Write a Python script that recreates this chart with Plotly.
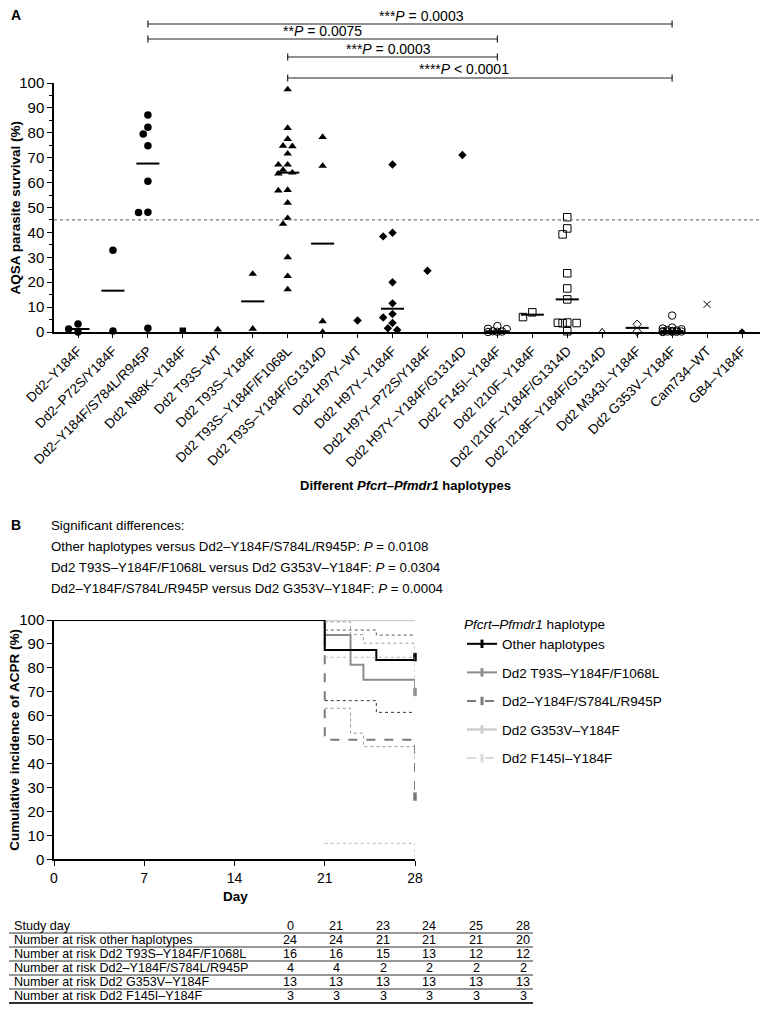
import math
import numpy as np
import plotly.graph_objects as go

# page is 768x1013; the browser body keeps an 8 px margin, so the figure itself is 752x997
OFF = 8
FW, FH = 752, 997

# ---------------- Panel A data ----------------
categories = [
    "Dd2–Y184F", "Dd2–P72S/Y184F", "Dd2–Y184F/S784L/R945P", "Dd2 N88K–Y184F",
    "Dd2 T93S–WT", "Dd2 T93S–Y184F", "Dd2 T93S–Y184F/F1068L", "Dd2 T93S–Y184F/G1314D",
    "Dd2 H97Y–WT", "Dd2 H97Y–Y184F", "Dd2 H97Y–P72S/Y184F", "Dd2 H97Y–Y184F/G1314D",
    "Dd2 F145I–Y184F", "Dd2 I210F–Y184F", "Dd2 I210F–Y184F/G1314D", "Dd2 I218F–Y184F/G1314D",
    "Dd2 M343I–Y184F", "Dd2 G353V–Y184F", "Cam734–WT", "GB4–Y184F",
]

survival_dd2_y184f = [0.0, 3.2, 1.2]
survival_dd2_p72s = [32.8, 0.4]
survival_dd2_s784l_r945p = [87.1, 82.2, 79.5, 74.8, 60.5, 48.1, 48.0, 1.5]
survival_n88k = [0.5]
survival_t93s_wt = [1.0]
survival_t93s_y184f = [23.3, 1.3]
survival_t93s_f1068l = [97.4, 81.9, 77.5, 74.8, 74.6, 71.6, 67.2, 67.2, 65.1, 64.0,
                        63.6, 57.0, 56.8, 51.9, 45.7, 43.4, 30.0, 22.4, 17.1]
survival_t93s_g1314d = [78.3, 66.7, 4.3, 0.0]
survival_h97y_wt = [4.6]
survival_h97y_y184f = [67.3, 39.9, 38.4, 20.0, 11.5, 7.2, 5.8, 3.6, 1.5, 0.8]
survival_h97y_p72s = [24.6]
survival_h97y_g1314d = [71.1]
survival_f145i = [2.4, 1.3, 1.2, 0.3, 0.2, 0.1, 0.0]
survival_i210f = [7.9, 6.0]
survival_i210f_g1314d = [46.1, 41.6, 39.2, 23.6, 17.5, 13.1, 3.8, 3.6, 3.7, 3.5, 0.3]
survival_i218f = [0.2]
survival_m343i = [3.1, 0.2]
survival_g353v = [6.6, 1.8, 1.4, 1.1, 0.8, 0.6, 0.4, 0.3, 0.2, 0.2, 0.1, 0.1, 0.0]
survival_cam734 = [11.1]
survival_gb4 = [0.2]

survival_values = [
    survival_dd2_y184f, survival_dd2_p72s, survival_dd2_s784l_r945p, survival_n88k,
    survival_t93s_wt, survival_t93s_y184f, survival_t93s_f1068l, survival_t93s_g1314d,
    survival_h97y_wt, survival_h97y_y184f, survival_h97y_p72s, survival_h97y_g1314d,
    survival_f145i, survival_i210f, survival_i210f_g1314d, survival_i218f,
    survival_m343i, survival_g353v, survival_cam734, survival_gb4,
]

threshold = 45

comparisons = [
    ("Dd2–Y184F/S784L/R945P", "Dd2 G353V–Y184F", "***<i>P</i> = 0.0003"),
    ("Dd2–Y184F/S784L/R945P", "Dd2 F145I–Y184F", "**<i>P</i> = 0.0075"),
    ("Dd2 T93S–Y184F/F1068L", "Dd2 F145I–Y184F", "***<i>P</i> = 0.0003"),
    ("Dd2 T93S–Y184F/F1068L", "Dd2 G353V–Y184F", "****<i>P</i> < 0.0001"),
]

# ---------------- Panel B data ----------------
km_days = [0, 21, 23, 24, 25, 28]
km_other = [100, 87.5, 87.5, 87.5, 83.3, 83.3]
km_t93s = [100, 93.75, 81.25, 75.0, 75.0, 68.75]
km_s784l = [100, 50.0, 50.0, 50.0, 50.0, 25.0]
km_g353v = [100, 100, 100, 100, 100, 100]
km_f145i = [100, 100, 100, 100, 100, 100]

ci_days = [21, 23, 24, 25, 28]
ci_other_low = [66.3, 66.3, 66.3, 61.4, 61.4]
ci_other_high = [95.8, 95.8, 95.8, 93.7, 93.7]
ci_t93s_low = [63.1, 52.7, 47.1, 47.1, 40.5]
ci_t93s_high = [99.2, 93.9, 90.3, 90.3, 85.6]
ci_s784l_low = [6.7, 6.7, 6.7, 6.7, 0.9]
ci_s784l_high = [84.4, 84.4, 84.4, 84.4, 66.5]

km_names = ["Other haplotypes", "Dd2 T93S–Y184F/F1068L", "Dd2–Y184F/S784L/R945P",
            "Dd2 G353V–Y184F", "Dd2 F145I–Y184F"]

table_days = [0, 21, 23, 24, 25, 28]
table_rows = [
    "Number at risk other haplotypes",
    "Number at risk Dd2 T93S–Y184F/F1068L",
    "Number at risk Dd2–Y184F/S784L/R945P",
    "Number at risk Dd2 G353V–Y184F",
    "Number at risk Dd2 F145I–Y184F",
]
risk_other = [24, 24, 21, 21, 21, 20]
risk_t93s = [16, 16, 15, 13, 12, 12]
risk_s784l = [4, 4, 2, 2, 2, 2]
risk_g353v = [13, 13, 13, 13, 13, 13]
risk_f145i = [3, 3, 3, 3, 3, 3]
risk_values = [risk_other, risk_t93s, risk_s784l, risk_g353v, risk_f145i]

significance_lines = [
    "Significant differences:",
    "Other haplotypes versus Dd2–Y184F/S784L/R945P: <i>P</i> = 0.0108",
    "Dd2 T93S–Y184F/F1068L versus Dd2 G353V–Y184F: <i>P</i> = 0.0304",
    "Dd2–Y184F/S784L/R945P versus Dd2 G353V–Y184F: <i>P</i> = 0.0004",
]

# ---------------- styles ----------------
FONT = "Liberation Sans, Arial, sans-serif"
symbols = ["circle", "circle", "circle", "square",
           "triangle-up", "triangle-up", "triangle-up", "triangle-up",
           "diamond", "diamond", "diamond", "diamond",
           "circle-open", "square-open", "square-open", "triangle-up-open",
           "diamond-open", "circle-open", "x-thin-open", "diamond"]
sym_sizes = [7.5, 7.5, 7.5, 6.5, 7.5, 7.5, 7.5, 7.5, 6.5, 6.5, 6.5, 6.5,
             7.5, 7.5, 7.5, 6.5, 6.5, 7.5, 7, 5]


def pxx(x):
    """reference-page x pixel -> paper fraction"""
    return (x - OFF) / FW


def pxy(y):
    """reference-page y pixel -> paper fraction"""
    return 1 - (y - OFF) / FH


# Panel A geometry (reference pixels)
A_left, A_right = 54, 760
A_top, A_bottom = 83, 332
CAT0_PX, CAT19_PX = 78, 742
px_per_cat = (CAT19_PX - CAT0_PX) / 19.0
A_range = [-(CAT0_PX - A_left) / px_per_cat,
           -(CAT0_PX - A_left) / px_per_cat + (A_right - A_left) / px_per_cat]
px_per_unit = (A_bottom - A_top) / 100.0


def swarm(vals, step_px=4.67, min_d=7.0):
    order = sorted(range(len(vals)), key=lambda i: -vals[i])
    placed = []
    offs = [0.0] * len(vals)
    cands = [0, -1, 1, -2, 2]
    for i in order:
        y = vals[i] * px_per_unit
        chosen, best_c, best_d = None, 0, -1
        for c in cands:
            x = c * step_px
            d = min([math.hypot(x - a, y - b) for a, b in placed], default=1e9)
            if d >= min_d:
                chosen = c
                break
            if d > best_d:
                best_d, best_c = d, c
        if chosen is None:
            chosen = best_c
        placed.append((chosen * step_px, y))
        offs[i] = chosen * step_px / px_per_cat
    return offs


fig = go.Figure()

for i, (cat, vals) in enumerate(zip(categories, survival_values)):
    offs = swarm(vals)
    sym = symbols[i]
    is_open = sym.endswith("open")
    fig.add_trace(go.Scatter(
        x=[i + o for o in offs], y=vals, mode="markers",
        marker=dict(symbol=sym, size=sym_sizes[i], color="black",
                    line=dict(color="black", width=1 if is_open else 0)),
        cliponaxis=False, showlegend=False, xaxis="x", yaxis="y", name=cat,
        hovertemplate=cat + ": %{y}<extra></extra>",
    ))
    if len(vals) >= 2:
        med = float(np.median(vals))
        fig.add_trace(go.Scatter(
            x=[i - 0.33, i + 0.33], y=[med, med], mode="lines",
            line=dict(color="black", width=2), cliponaxis=False,
            showlegend=False, xaxis="x", yaxis="y", hoverinfo="skip",
        ))

# threshold line
fig.add_trace(go.Scatter(
    x=A_range, y=[threshold, threshold], mode="lines",
    line=dict(color="#777777", width=1.2, dash="dot"),
    showlegend=False, xaxis="x", yaxis="y", hoverinfo="skip",
))

shapes = []
annotations = []

# significance brackets (reference pixel rows; the top one is nudged below the page margin)
bracket_y = [24, 39, 57, 78]
label_px = [(422, 15.5), (322, 31), (388, 49), (464, 69)]
for (c1, c2, label), by, (lx, ly) in zip(comparisons, bracket_y, label_px):
    i1, i2 = categories.index(c1), categories.index(c2)
    for seg in [(i1, by, i2, by), (i1, by - 3.5, i1, by + 3.5), (i2, by - 3.5, i2, by + 3.5)]:
        shapes.append(dict(type="line", xref="x", yref="paper",
                           x0=seg[0], y0=pxy(seg[1]), x1=seg[2], y1=pxy(seg[3]),
                           line=dict(color="#222222", width=1.2)))
    annotations.append(dict(x=pxx(lx), y=pxy(ly), text=label, font=dict(size=14),
                            xanchor="center", yanchor="middle"))

# ---------------- Panel B ----------------
B_left, B_right = 54, 415
B_top, B_bottom = 620, 859.3

km_series = [km_other, km_t93s, km_s784l, km_g353v, km_f145i]
km_styles = [
    dict(color="black", width=2, dash="solid"),
    dict(color="#8c8c8c", width=2, dash="solid"),
    dict(color="#7a7a7a", width=2, dash="dash"),
    dict(color="#cfcfcf", width=2.5, dash="solid"),
    dict(color="#d9d9d9", width=2, dash="dash"),
]
draw_order = [4, 3, 2, 1, 0]
for k in draw_order:
    fig.add_trace(go.Scatter(
        x=km_days, y=km_series[k], mode="lines", line=dict(shape="hv", **km_styles[k]),
        showlegend=False, xaxis="x2", yaxis="y2", cliponaxis=False, name=km_names[k],
    ))
    fig.add_trace(go.Scatter(
        x=[km_days[-1]], y=[km_series[k][-1] + 1.2], mode="markers",
        marker=dict(symbol="line-ns", size=6, line=dict(color=km_styles[k]["color"], width=3.5)),
        showlegend=False, xaxis="x2", yaxis="y2", cliponaxis=False, hoverinfo="skip",
    ))

ci_sets = [
    (ci_other_low, "#333333"), (ci_other_high, "#555555"),
    (ci_t93s_low, "#9a9a9a"), (ci_t93s_high, "#9a9a9a"),
    (ci_s784l_low, "#b5b5b5"), (ci_s784l_high, "#b5b5b5"),
]
for vals, col in ci_sets:
    fig.add_trace(go.Scatter(
        x=ci_days, y=vals, mode="lines",
        line=dict(shape="hv", color=col, width=1, dash="dot"),
        showlegend=False, xaxis="x2", yaxis="y2", cliponaxis=False, hoverinfo="skip",
    ))

# legend entries
for k in range(5):
    fig.add_trace(go.Scatter(
        x=[None], y=[None], mode="lines+markers", name=km_names[k],
        line=km_styles[k],
        marker=dict(symbol="line-ns", size=6, line=dict(color=km_styles[k]["color"], width=3)),
        xaxis="x2", yaxis="y2", legendgroup=f"g{k}", showlegend=True,
    ))

# ---------------- text annotations ----------------
annotations += [
    dict(x=pxx(9), y=pxy(15), text="<b>A</b>", font=dict(size=14), xanchor="left", yanchor="middle"),
    dict(x=pxx(15), y=pxy((A_top + A_bottom) / 2), text="<b>AQSA parasite survival (%)</b>",
         textangle=-90, font=dict(size=13.5), xanchor="center", yanchor="middle"),
    dict(x=pxx(405), y=pxy(485), text="<b>Different <i>Pfcrt–Pfmdr1</i> haplotypes</b>",
         font=dict(size=13), xanchor="center", yanchor="middle"),
    dict(x=pxx(9), y=pxy(525), text="<b>B</b>", font=dict(size=14), xanchor="left", yanchor="middle"),
    dict(x=pxx(15), y=pxy((B_top + B_bottom) / 2), text="<b>Cumulative incidence of ACPR (%)</b>",
         textangle=-90, font=dict(size=13.5), xanchor="center", yanchor="middle"),
    dict(x=pxx(235), y=pxy(896), text="<b>Day</b>", font=dict(size=13.5),
         xanchor="center", yanchor="middle"),
]
for j, line in enumerate(significance_lines):
    annotations.append(dict(x=pxx(49), y=pxy(525 + 21 * j), text=line, font=dict(size=13.3),
                            xanchor="left", yanchor="middle"))

# table
col_x = [290, 336, 383, 429, 476, 523]
row_y0, row_step = 926, 14.0
tab_font = dict(size=12.6)
annotations.append(dict(x=pxx(12), y=pxy(row_y0), text="Study day", font=tab_font,
                        xanchor="left", yanchor="middle"))
for c, d in zip(col_x, table_days):
    annotations.append(dict(x=pxx(c), y=pxy(row_y0), text=str(d), font=tab_font,
                            xanchor="center", yanchor="middle"))
for r, (label, vals) in enumerate(zip(table_rows, risk_values)):
    yy = row_y0 + row_step * (r + 1)
    annotations.append(dict(x=pxx(12), y=pxy(yy), text=label, font=tab_font,
                            xanchor="left", yanchor="middle"))
    for c, v in zip(col_x, vals):
        annotations.append(dict(x=pxx(c), y=pxy(yy), text=str(v), font=tab_font,
                                xanchor="center", yanchor="middle"))
for r in range(6):
    ly = min(row_y0 + row_step * r + 7, 1003.5)
    shapes.append(dict(type="line", xref="paper", yref="paper", x0=pxx(9), x1=pxx(533),
                       y0=pxy(ly), y1=pxy(ly),
                       line=dict(color="#333333", width=2 if r == 5 else 1.2)))

for a in annotations:
    a.setdefault("showarrow", False)
    a.setdefault("xref", "paper")
    a.setdefault("yref", "paper")

axis_common = dict(showline=True, linecolor="black", linewidth=1.5, ticks="outside",
                   tickcolor="black", tickwidth=1.2, showgrid=False, zeroline=False,
                   automargin=False)

fig.update_layout(
    width=FW, height=FH, autosize=False,
    margin=dict(l=0, r=0, t=0, b=0, pad=0),
    paper_bgcolor="white", plot_bgcolor="white",
    font=dict(family=FONT, color="black"),
    xaxis=dict(domain=[pxx(A_left), pxx(A_right)], range=A_range, anchor="y",
               tickvals=list(range(len(categories))), ticktext=categories,
               tickangle=-45, ticklen=4, tickfont=dict(size=13.5, family=FONT, color="black"),
               **axis_common),
    yaxis=dict(domain=[pxy(A_bottom), pxy(A_top)], range=[0, 100], anchor="x",
               dtick=10, tick0=0, ticklen=5, tickfont=dict(size=15, family=FONT, color="black"),
               minor=dict(dtick=5, tick0=0, ticks="outside", ticklen=3, tickcolor="black"),
               **axis_common),
    xaxis2=dict(domain=[pxx(B_left), pxx(B_right)], range=[0, 28], anchor="y2",
                tickvals=[0, 7, 14, 21, 28], ticklen=5,
                tickfont=dict(size=14, family=FONT, color="black"), **axis_common),
    yaxis2=dict(domain=[pxy(B_bottom), pxy(B_top)], range=[0, 100], anchor="x2",
                dtick=10, tick0=0, ticklen=5,
                tickfont=dict(size=15, family=FONT, color="black"), **axis_common),
    showlegend=True,
    legend=dict(x=pxx(462), y=pxy(611), xanchor="left", yanchor="top",
                title=dict(text="<i>Pfcrt–Pfmdr1</i> haplotype", font=dict(size=13.5), side="top"),
                font=dict(size=13.5), tracegroupgap=8, bgcolor="rgba(0,0,0,0)",
                traceorder="grouped", itemwidth=30),
    shapes=shapes,
    annotations=annotations,
)

fig.write_html("out.html", include_plotlyjs=True, config={"displayModeBar": False})
